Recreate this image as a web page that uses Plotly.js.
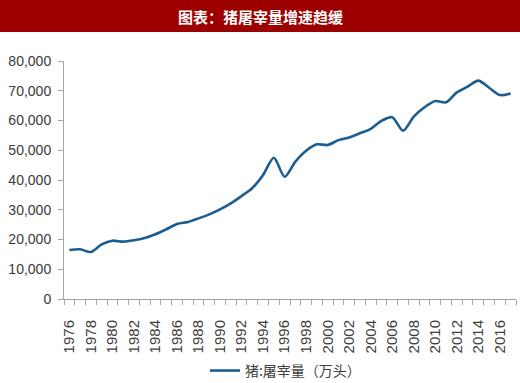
<!DOCTYPE html>
<html>
<head>
<meta charset="utf-8">
<script src="https://cdn.plot.ly/plotly-3.0.1.min.js"></script>
<style>
html,body{margin:0;padding:0;background:#fff;}
#chart{width:520px;height:383px;}
</style>
</head>
<body>
<div id="chart"></div>
<script>
const years = [1976,1977,1978,1979,1980,1981,1982,1983,1984,1985,1986,1987,1988,1989,1990,1991,1992,1993,1994,1995,1996,1997,1998,1999,2000,2001,2002,2003,2004,2005,2006,2007,2008,2009,2010,2011,2012,2013,2014,2015,2016,2017];
const slaughter = [16470,16700,15800,18380,19600,19270,19720,20500,21740,23420,25200,25880,27100,28460,30140,32160,34600,37300,41700,47500,41100,46200,49850,52000,51760,53400,54300,55700,57200,59900,61100,56550,61300,64450,66550,66100,69450,71350,73400,71000,68550,69100];
const tickYears = [1976,1978,1980,1982,1984,1986,1988,1990,1992,1994,1996,1998,2000,2002,2004,2006,2008,2010,2012,2014,2016];
const yTicks = [0,10000,20000,30000,40000,50000,60000,70000,80000];
const yTickText = ['0','10,000','20,000','30,000','40,000','50,000','60,000','70,000','80,000'];
const seriesName = '猪:屠宰量（万头）';
const chartTitle = '图表：猪屠宰量增速趋缓';

const W = 520, H = 383, mL = 64, mR = 4, mT = 61, mB = 84;
const pw = W - mL - mR, ph = H - mT - mB;
const bandTop = (H - mB - 0) / ph, bandBot = (H - mB - 32) / ph;

const trace = {
  x: years, y: slaughter, type: 'scatter', mode: 'lines', name: seriesName,
  line: {color: '#1c5d91', width: 2.6, shape: 'spline', smoothing: 0.8}
};

const layout = {
  width: W, height: H,
  margin: {l: mL, r: mR, t: mT, b: mB, autoexpand: false},
  paper_bgcolor: '#fff', plot_bgcolor: '#fff',
  font: {family: 'Liberation Sans, Arial, sans-serif', color: '#404040', size: 14},
  showlegend: true,
  legend: {orientation: 'h', x: 0.49, xanchor: 'center', y: -0.235, yanchor: 'top',
    font: {family: '"Noto Sans CJK SC", sans-serif', size: 14, color: '#404040'}},
  xaxis: {
    type: 'linear', range: [1975.5, 2017.5],
    tickvals: tickYears, ticktext: tickYears.map(String), tickangle: -90,
    ticks: '', ticklabelstandoff: 14,
    tickfont: {size: 15, family: 'Liberation Sans, Arial, sans-serif', color: '#404040'},
    showgrid: false, zeroline: false, showline: true, linecolor: '#a6a6a6', linewidth: 1,
    minor: {tick0: 1975.5, dtick: 1, ticks: 'outside', ticklen: 5, tickcolor: '#a6a6a6', showgrid: false}
  },
  yaxis: {
    range: [0, 80000], tickvals: yTicks, ticktext: yTickText,
    ticks: 'outside', ticklen: 5, tickcolor: '#a6a6a6', ticklabelstandoff: 4,
    showgrid: false, zeroline: false, showline: true, linecolor: '#a6a6a6', linewidth: 1,
    tickfont: {size: 14, color: '#3a3a3a'}
  },
  shapes: [{
    type: 'rect', xref: 'paper', yref: 'paper', layer: 'below',
    x0: -mL / pw, x1: (W - mL) / pw, y0: bandBot, y1: bandTop,
    fillcolor: '#9c0000', line: {width: 0}
  }],
  annotations: [{
    xref: 'paper', yref: 'paper', x: (260 - mL) / pw, y: (bandTop + bandBot) / 2,
    xanchor: 'center', yanchor: 'middle', showarrow: false, text: '<b>' + chartTitle + '</b>',
    font: {family: '"Noto Sans CJK SC", sans-serif', size: 15, color: '#ffffff'}
  }]
};

Plotly.newPlot('chart', [trace], layout, {displayModeBar: false, staticPlot: true});
</script>
</body>
</html>
